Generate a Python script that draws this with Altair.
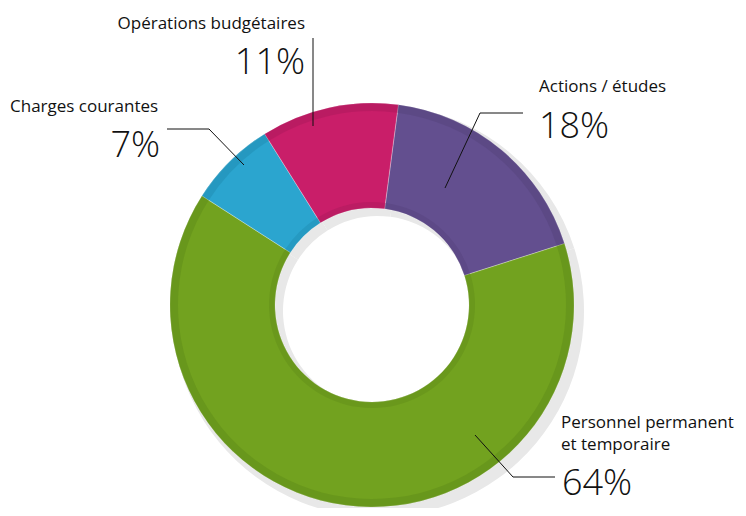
import math
import altair as alt
import pandas as pd

# ---- data ----
categories = ["Actions / études", "Personnel permanent et temporaire", "Charges courantes", "Opérations budgétaires"]
values = [18, 64, 7, 11]
pct_labels = ["18%", "64%", "7%", "11%"]
colors = ["#634F8F", "#72A21F", "#2BA5CF", "#C91E69"]
rim_colors = ["#54427A", "#5E8A18", "#1F89AE", "#A8185A"]

# ---- layout (pixels) ----
W, H = 730, 500
CX, CY = 364, 297
R_OUT, R_IN = 202, 97
START = math.radians(7.5)

df = pd.DataFrame({
    "cat": categories,
    "value": values,
    "order": list(range(len(categories))),
    "color": colors,
    "rim": rim_colors,
})

base = alt.Chart(df).transform_window(
    cum="sum(value)", sort=[alt.SortField("order")]
).transform_joinaggregate(total="sum(value)").transform_calculate(
    t1=f"{START} + 2*PI*datum.cum/datum.total",
    t0=f"{START} + 2*PI*(datum.cum-datum.value)/datum.total",
)

shadow = base.mark_arc(outerRadius=R_OUT + 4, innerRadius=R_IN - 2, color="#e8e8e8").encode(
    theta=alt.Theta("t0:Q", scale=None), theta2="t1:Q",
    x=alt.value(CX + 6), y=alt.value(CY + 6),
)

main = base.mark_arc(outerRadius=R_OUT, innerRadius=R_IN, stroke="#ffffff", strokeWidth=0.6, strokeOpacity=0.5).encode(
    theta=alt.Theta("t0:Q", scale=None), theta2="t1:Q",
    color=alt.Color("color:N", scale=None),
    x=alt.value(CX), y=alt.value(CY),
)

rim = base.mark_arc(outerRadius=R_OUT, innerRadius=R_OUT - 8, opacity=0.45).encode(
    theta=alt.Theta("t0:Q", scale=None), theta2="t1:Q",
    color=alt.Color("rim:N", scale=None),
    x=alt.value(CX), y=alt.value(CY),
)

inner_rim = base.mark_arc(outerRadius=R_IN + 6, innerRadius=R_IN, opacity=0.4).encode(
    theta=alt.Theta("t0:Q", scale=None), theta2="t1:Q",
    color=alt.Color("rim:N", scale=None),
    x=alt.value(CX), y=alt.value(CY),
)

# ---- labels ----
name_lines = [["Actions / études"], ["Personnel permanent", "et temporaire"], ["Charges courantes"], ["Opérations budgétaires"]]
name_pos = [(531, 84, "left"), (553, 420, "left"), (2, 104, "left"), (297, 21, "right")]
pct_pos = [(531, 130, "left"), (554, 487, "left"), (152, 149, "right"), (297, 66, "right")]
leaders = [
    [(515, 105), (472, 105), (437, 180)],
    [(467, 427), (505, 469), (547, 469)],
    [(159, 121), (201, 121), (236, 157)],
    [(305, 30), (305, 118)],
]

layers = [shadow, main, rim, inner_rim]
FONT = "Open Sans"
for i in range(len(categories)):
    nx, ny, na = name_pos[i]
    for k, line in enumerate(name_lines[i]):
        layers.append(
            alt.Chart(pd.DataFrame({"t": [line]})).mark_text(
                font=FONT, fontSize=17, align=na, baseline="alphabetic", color="#111111"
            ).encode(text="t:N", x=alt.value(nx), y=alt.value(ny + 22 * k))
        )
    px, py, pa = pct_pos[i]
    layers.append(
        alt.Chart(pd.DataFrame({"t": [pct_labels[i]]})).mark_text(
            font=FONT, fontSize=36, fontWeight=300, align=pa, baseline="alphabetic", color="#111111"
        ).encode(text="t:N", x=alt.value(px), y=alt.value(py))
    )
    pts = leaders[i]
    ldf = pd.DataFrame({"x": [p[0] for p in pts], "y": [p[1] for p in pts], "o": list(range(len(pts)))})
    layers.append(
        alt.Chart(ldf).mark_line(color="#111111", strokeWidth=1).encode(
            x=alt.X("x:Q", scale=None), y=alt.Y("y:Q", scale=None), order="o:Q"
        )
    )

chart = alt.layer(*layers).properties(
    width=W, height=H, padding=0, autosize=alt.AutoSizeParams(type="none")
).configure_view(stroke=None).configure_axis(disable=True)

chart.save("out.html", embed_options={"renderer": "svg", "actions": False})
